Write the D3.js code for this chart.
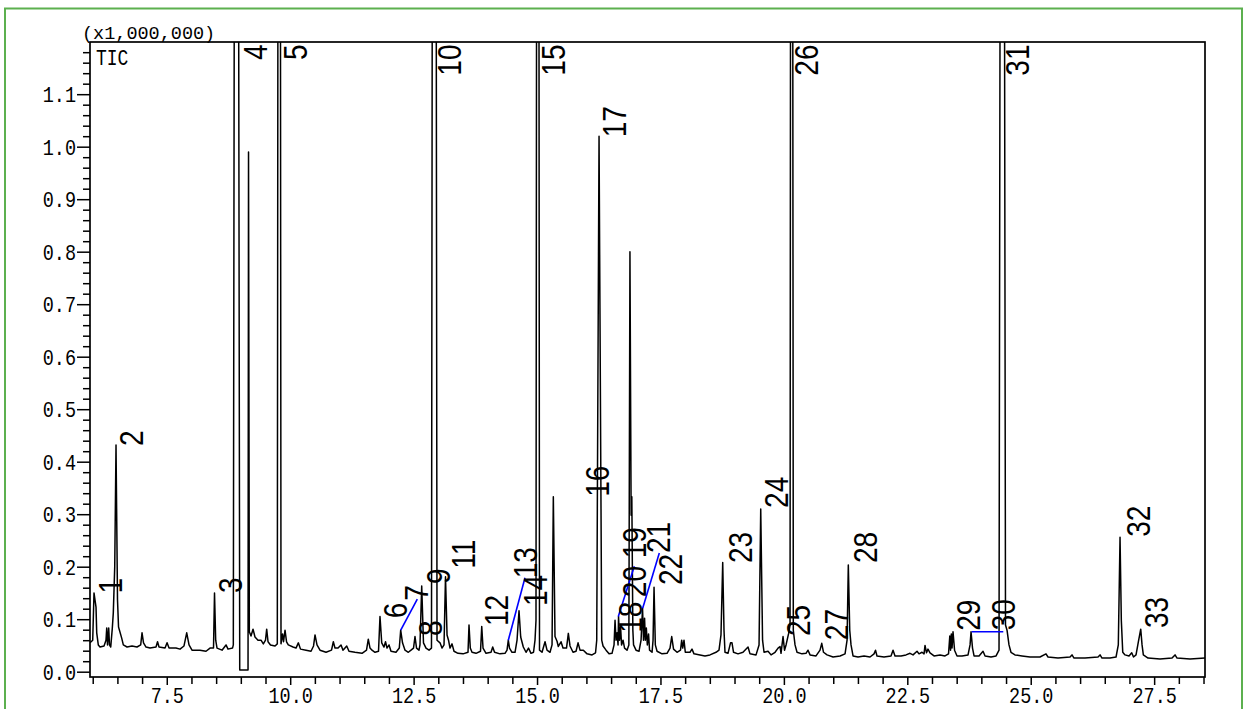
<!DOCTYPE html>
<html><head><meta charset="utf-8">
<script src="https://cdn.jsdelivr.net/npm/d3@7"></script>
<style>body{margin:0;background:#fff;}svg{display:block;}</style>
</head><body>
<svg id="chart" width="1248" height="709"></svg>
<script>
// ---- data (retention time in min, intensity in x1,000,000) ----
const ticTrace = [
[5.945,0.055],[6.000,0.060],[6.026,0.150],[6.067,0.123],[6.081,0.074],[6.113,0.051],[6.148,0.047],[6.229,0.049],
[6.269,0.060],[6.284,0.083],[6.300,0.051],[6.324,0.083],[6.340,0.051],[6.365,0.047],[6.397,0.083],[6.417,0.112],
[6.446,0.200],[6.472,0.432],[6.502,0.137],[6.523,0.085],[6.587,0.064],[6.620,0.051],[6.695,0.047],[6.796,0.049],
[6.897,0.047],[6.972,0.051],[6.999,0.074],[7.029,0.055],[7.080,0.047],[7.161,0.045],[7.282,0.047],[7.313,0.057],
[7.343,0.047],[7.465,0.045],[7.506,0.055],[7.546,0.045],[7.687,0.045],[7.768,0.043],[7.849,0.049],[7.904,0.074],
[7.951,0.051],[8.011,0.041],[8.173,0.041],[8.295,0.039],[8.376,0.045],[8.447,0.045],[8.467,0.150],[8.491,0.060],
[8.518,0.045],[8.619,0.041],[8.700,0.051],[8.741,0.043],[8.832,0.045],[8.848,0.051],[8.909,4.0],[8.978,0.003],
[9.146,0.003],[9.156,0.990],[9.172,0.076],[9.206,0.068],[9.247,0.081],[9.287,0.066],[9.348,0.060],[9.409,0.060],
[9.456,0.053],[9.500,0.060],[9.524,0.081],[9.551,0.057],[9.601,0.051],[9.693,0.049],[9.739,0.053],[9.778,4.0],
[9.814,0.053],[9.845,0.072],[9.865,0.057],[9.895,0.079],[9.926,0.057],[9.962,0.051],[10.057,0.047],[10.118,0.045],
[10.165,0.055],[10.209,0.043],[10.321,0.041],[10.422,0.039],[10.473,0.049],[10.503,0.070],[10.543,0.051],[10.604,0.041],
[10.726,0.037],[10.837,0.041],[10.874,0.057],[10.908,0.045],[10.969,0.045],[11.030,0.051],[11.070,0.041],[11.145,0.049],
[11.191,0.039],[11.313,0.037],[11.455,0.035],[11.546,0.041],[11.582,0.062],[11.617,0.045],[11.657,0.041],[11.718,0.037],
[11.789,0.039],[11.819,0.105],[11.854,0.055],[11.900,0.047],[11.931,0.057],[11.961,0.045],[12.002,0.051],[12.042,0.039],
[12.143,0.037],[12.210,0.045],[12.238,0.079],[12.275,0.055],[12.326,0.041],[12.393,0.037],[12.447,0.041],[12.498,0.045],
[12.528,0.067],[12.559,0.045],[12.609,0.041],[12.629,0.051],[12.664,0.163],[12.700,0.055],[12.751,0.045],[12.812,0.041],
[12.862,0.045],[12.917,4.5],[12.974,0.060],[13.035,0.055],[13.075,0.045],[13.116,0.051],[13.146,0.181],[13.177,0.070],
[13.207,0.060],[13.237,0.045],[13.278,0.053],[13.318,0.039],[13.399,0.035],[13.501,0.034],[13.602,0.037],[13.622,0.089],
[13.648,0.045],[13.683,0.037],[13.764,0.035],[13.855,0.039],[13.880,0.086],[13.906,0.045],[13.967,0.035],[14.068,0.037],
[14.102,0.047],[14.139,0.037],[14.250,0.034],[14.351,0.035],[14.392,0.041],[14.418,0.060],[14.442,0.045],[14.493,0.037],
[14.554,0.037],[14.595,0.060],[14.635,0.116],[14.669,0.066],[14.722,0.047],[14.777,0.037],[14.827,0.045],[14.878,0.035],
[14.929,0.037],[14.959,0.060],[14.979,0.098],[15.016,4.0],[15.050,0.041],[15.101,0.037],[15.162,0.057],[15.202,0.041],
[15.263,0.037],[15.304,0.051],[15.330,0.333],[15.364,0.067],[15.405,0.058],[15.431,0.048],[15.486,0.057],[15.526,0.045],
[15.597,0.045],[15.634,0.073],[15.668,0.049],[15.729,0.037],[15.790,0.039],[15.831,0.055],[15.871,0.041],[15.938,0.041],
[16.013,0.034],[16.114,0.032],[16.185,0.036],[16.209,0.060],[16.256,1.020],[16.310,0.060],[16.337,0.049],[16.398,0.041],
[16.459,0.034],[16.519,0.035],[16.560,0.051],[16.580,0.098],[16.600,0.060],[16.621,0.074],[16.641,0.051],[16.651,0.105],
[16.671,0.060],[16.692,0.086],[16.712,0.051],[16.742,0.060],[16.773,0.045],[16.823,0.041],[16.860,0.051],[16.882,0.800],
[16.906,0.298],[16.920,0.333],[16.941,0.079],[16.955,0.051],[17.005,0.041],[17.066,0.039],[17.107,0.060],[17.137,0.121],
[17.157,0.060],[17.178,0.102],[17.194,0.060],[17.214,0.083],[17.234,0.051],[17.259,0.072],[17.279,0.041],[17.330,0.037],
[17.350,0.060],[17.370,0.161],[17.396,0.051],[17.431,0.039],[17.532,0.034],[17.633,0.035],[17.694,0.045],[17.728,0.067],
[17.765,0.043],[17.836,0.037],[17.906,0.041],[17.930,0.060],[17.951,0.045],[17.977,0.060],[18.003,0.037],[18.098,0.037],
[18.139,0.043],[18.179,0.034],[18.301,0.032],[18.402,0.030],[18.503,0.032],[18.625,0.037],[18.686,0.041],[18.726,0.070],
[18.761,0.208],[18.787,0.079],[18.807,0.037],[18.868,0.035],[18.919,0.055],[18.949,0.055],[18.980,0.037],[19.071,0.034],
[19.172,0.037],[19.274,0.047],[19.314,0.034],[19.436,0.032],[19.497,0.051],[19.531,0.310],[19.568,0.060],[19.598,0.037],
[19.679,0.039],[19.740,0.032],[19.821,0.037],[19.882,0.045],[19.922,0.048],[19.942,0.035],[19.983,0.067],[20.013,0.041],
[20.044,0.051],[20.094,0.072],[20.125,0.089],[20.155,4.0],[20.191,0.079],[20.226,0.051],[20.266,0.037],[20.367,0.034],
[20.448,0.035],[20.489,0.041],[20.530,0.032],[20.651,0.030],[20.732,0.041],[20.767,0.054],[20.803,0.037],[20.874,0.032],
[20.996,0.028],[21.138,0.030],[21.239,0.034],[21.280,0.060],[21.305,0.203],[21.334,0.079],[21.360,0.051],[21.401,0.030],
[21.502,0.028],[21.624,0.030],[21.745,0.028],[21.826,0.034],[21.856,0.041],[21.886,0.030],[22.028,0.028],[22.170,0.030],
[22.211,0.041],[22.251,0.030],[22.373,0.030],[22.474,0.032],[22.555,0.035],[22.616,0.032],[22.697,0.039],[22.737,0.034],
[22.798,0.037],[22.839,0.034],[22.859,0.050],[22.889,0.036],[22.919,0.043],[22.960,0.036],[23.041,0.030],[23.163,0.032],
[23.264,0.030],[23.335,0.034],[23.361,0.068],[23.376,0.041],[23.392,0.072],[23.406,0.045],[23.426,0.076],[23.457,0.041],
[23.507,0.030],[23.608,0.030],[23.730,0.032],[23.771,0.051],[23.791,0.076],[23.821,0.045],[23.852,0.030],[23.953,0.030],
[24.034,0.039],[24.075,0.030],[24.196,0.028],[24.298,0.030],[24.358,0.041],[24.424,4.0],[24.489,0.089],[24.520,0.079],
[24.560,0.051],[24.600,0.037],[24.681,0.032],[24.823,0.030],[24.985,0.028],[25.188,0.028],[25.309,0.034],[25.350,0.028],
[25.552,0.026],[25.796,0.028],[25.836,0.032],[25.877,0.026],[26.100,0.026],[26.363,0.028],[26.404,0.032],[26.444,0.026],
[26.606,0.026],[26.728,0.028],[26.774,0.051],[26.809,0.256],[26.835,0.098],[26.864,0.037],[26.910,0.032],[26.991,0.030],
[27.046,0.036],[27.082,0.028],[27.133,0.032],[27.180,0.057],[27.228,0.081],[27.255,0.051],[27.281,0.032],[27.376,0.026],
[27.619,0.024],[27.862,0.026],[27.923,0.032],[27.964,0.026],[28.227,0.024],[28.531,0.026]
];
// peak labels: id, label anchor time, label anchor intensity (null = peak off scale, label at top)
const peakIds = ["1","2","3","4","5","6","7","8","9","10","11","12","13","14","15","16","17",
                 "18","19","20","21","22","23","24","25","26","27","28","29","30","31","32","33"];
const labelT = [6.593,7.019,9.024,9.530,10.343,12.366,12.792,13.075,13.237,13.461,13.745,14.412,15.000,15.201,15.566,16.453,16.802,
                17.123,17.204,17.204,17.696,17.939,19.355,20.085,20.531,20.701,21.299,21.886,23.973,24.682,24.966,27.415,27.780];
const labelI = [0.149,0.430,0.150,null,null,0.102,0.135,0.068,0.167,null,0.196,0.087,0.178,0.125,null,0.333,1.018,
                0.074,0.216,0.142,0.226,0.165,0.207,0.312,0.068,null,0.060,0.207,0.078,0.079,null,0.257,0.083];
// leader lines from peak apex to moved label: [t1, I1, t2, I2]
const leaderLines = [
  [12.239,0.079,12.575,0.138],
  [14.418,0.060,14.756,0.179],
  [16.646,0.105,16.970,0.201],
  [17.140,0.121,17.477,0.226],
  [23.804,0.076,24.444,0.076]
];
const xTickLabels = ["7.5","10.0","12.5","15.0","17.5","20.0","22.5","25.0","27.5"];
const yTickLabels = ["0.0","0.1","0.2","0.3","0.4","0.5","0.6","0.7","0.8","0.9","1.0","1.1"];

// ---- layout ----
const L = 90, T = 42, R = 1205, B = 677;
const svg = d3.select("#chart");
const x = d3.scaleLinear().domain([5.945, 28.53]).range([L, R]);
const y = d3.scaleLinear().domain([-0.0101, 1.1994]).range([B, T]);
const monoFont = "'Liberation Mono','DejaVu Sans Mono',monospace";

// green outer border
svg.append("rect").attr("x",5).attr("y",8.5).attr("width",1237).attr("height",706)
  .attr("fill","none").attr("stroke","#5cb04f").attr("stroke-width",2);

svg.append("defs").append("clipPath").attr("id","plotclip")
  .append("rect").attr("x",L).attr("y",T).attr("width",R-L).attr("height",B-T);

// y axis: minor & major ticks
const yMajor = yTickLabels.map(s => +s);
const yMinor = d3.range(0, 1.19, 0.02).filter(v => Math.abs(v*10 - Math.round(v*10)) > 1e-6);
const yMinorAxis = svg.append("g").attr("transform",`translate(${L},0)`)
  .call(d3.axisLeft(y).tickValues(yMinor).tickSize(7).tickFormat(""));
const yMajorAxis = svg.append("g").attr("transform",`translate(${L},0)`)
  .call(d3.axisLeft(y).tickValues(yMajor).tickSize(13).tickPadding(1)
        .tickFormat((d,i) => yTickLabels[i]));
// x axis
const xMajor = xTickLabels.map(s => +s);
const xMinor = d3.range(6, 28.51, 0.5).filter(v => !xMajor.some(m => Math.abs(m - v) < 1e-6));
const xMinorAxis = svg.append("g").attr("transform",`translate(0,${B})`)
  .call(d3.axisBottom(x).tickValues(xMinor).tickSize(7).tickFormat(""));
const xMajorAxis = svg.append("g").attr("transform",`translate(0,${B})`)
  .call(d3.axisBottom(x).tickValues(xMajor).tickSize(8)
        .tickFormat((d,i) => xTickLabels[i]));
[yMinorAxis,yMajorAxis,xMinorAxis,xMajorAxis].forEach(g => {
  g.select(".domain").remove();
  g.selectAll("line").attr("stroke","#000").attr("stroke-width",1.5);
  g.selectAll("text").attr("fill","#000").style("font-family",monoFont).style("font-size","18.5px");
});
yMajorAxis.selectAll("text").attr("transform","scale(1,1.22)").attr("dy","0.33em");
xMajorAxis.selectAll("text").attr("y",0).attr("dy",0).attr("transform","translate(0,26) scale(1,1.18)");

// plot frame
svg.append("rect").attr("x",L).attr("y",T).attr("width",R-L).attr("height",B-T)
  .attr("fill","none").attr("stroke","#000").attr("stroke-width",1.7);

// scale caption & TIC
svg.append("text").attr("x",82).attr("y",39).text("(x1,000,000)")
  .style("font-family",monoFont).style("font-size","18.5px").attr("fill","#000");
svg.append("text").attr("transform","translate(96,65) scale(1,1.22)").text("TIC")
  .style("font-family",monoFont).style("font-size","18px").attr("fill","#000");

// chromatogram trace
const line = d3.line().x(d => x(d[0])).y(d => y(d[1]));
svg.append("path").datum(ticTrace).attr("d",line).attr("clip-path","url(#plotclip)")
  .attr("fill","none").attr("stroke","#000").attr("stroke-width",1.5).attr("stroke-linejoin","round");

// leader lines (blue)
svg.append("g").selectAll("line").data(leaderLines).join("line")
  .attr("x1",d => x(d[0])).attr("y1",d => y(d[1])).attr("x2",d => x(d[2])).attr("y2",d => y(d[3]))
  .attr("stroke","#0000ff").attr("stroke-width",1.6);

// peak labels (rotated, reading upward)
svg.append("g").selectAll("text").data(peakIds).join("text")
  .text(d => d)
  .attr("transform",(d,i) => {
    const px = x(labelT[i]);
    const py = labelI[i] === null ? T + 2.5 : y(labelI[i]);
    return `translate(${px},${py}) rotate(-90) scale(0.85,1)`;
  })
  .attr("text-anchor",(d,i) => labelI[i] === null ? "end" : "start")
  .style("font-family","'Liberation Sans',Arial,sans-serif").style("font-size","33px")
  .attr("fill","#000");
</script>
</body></html>
